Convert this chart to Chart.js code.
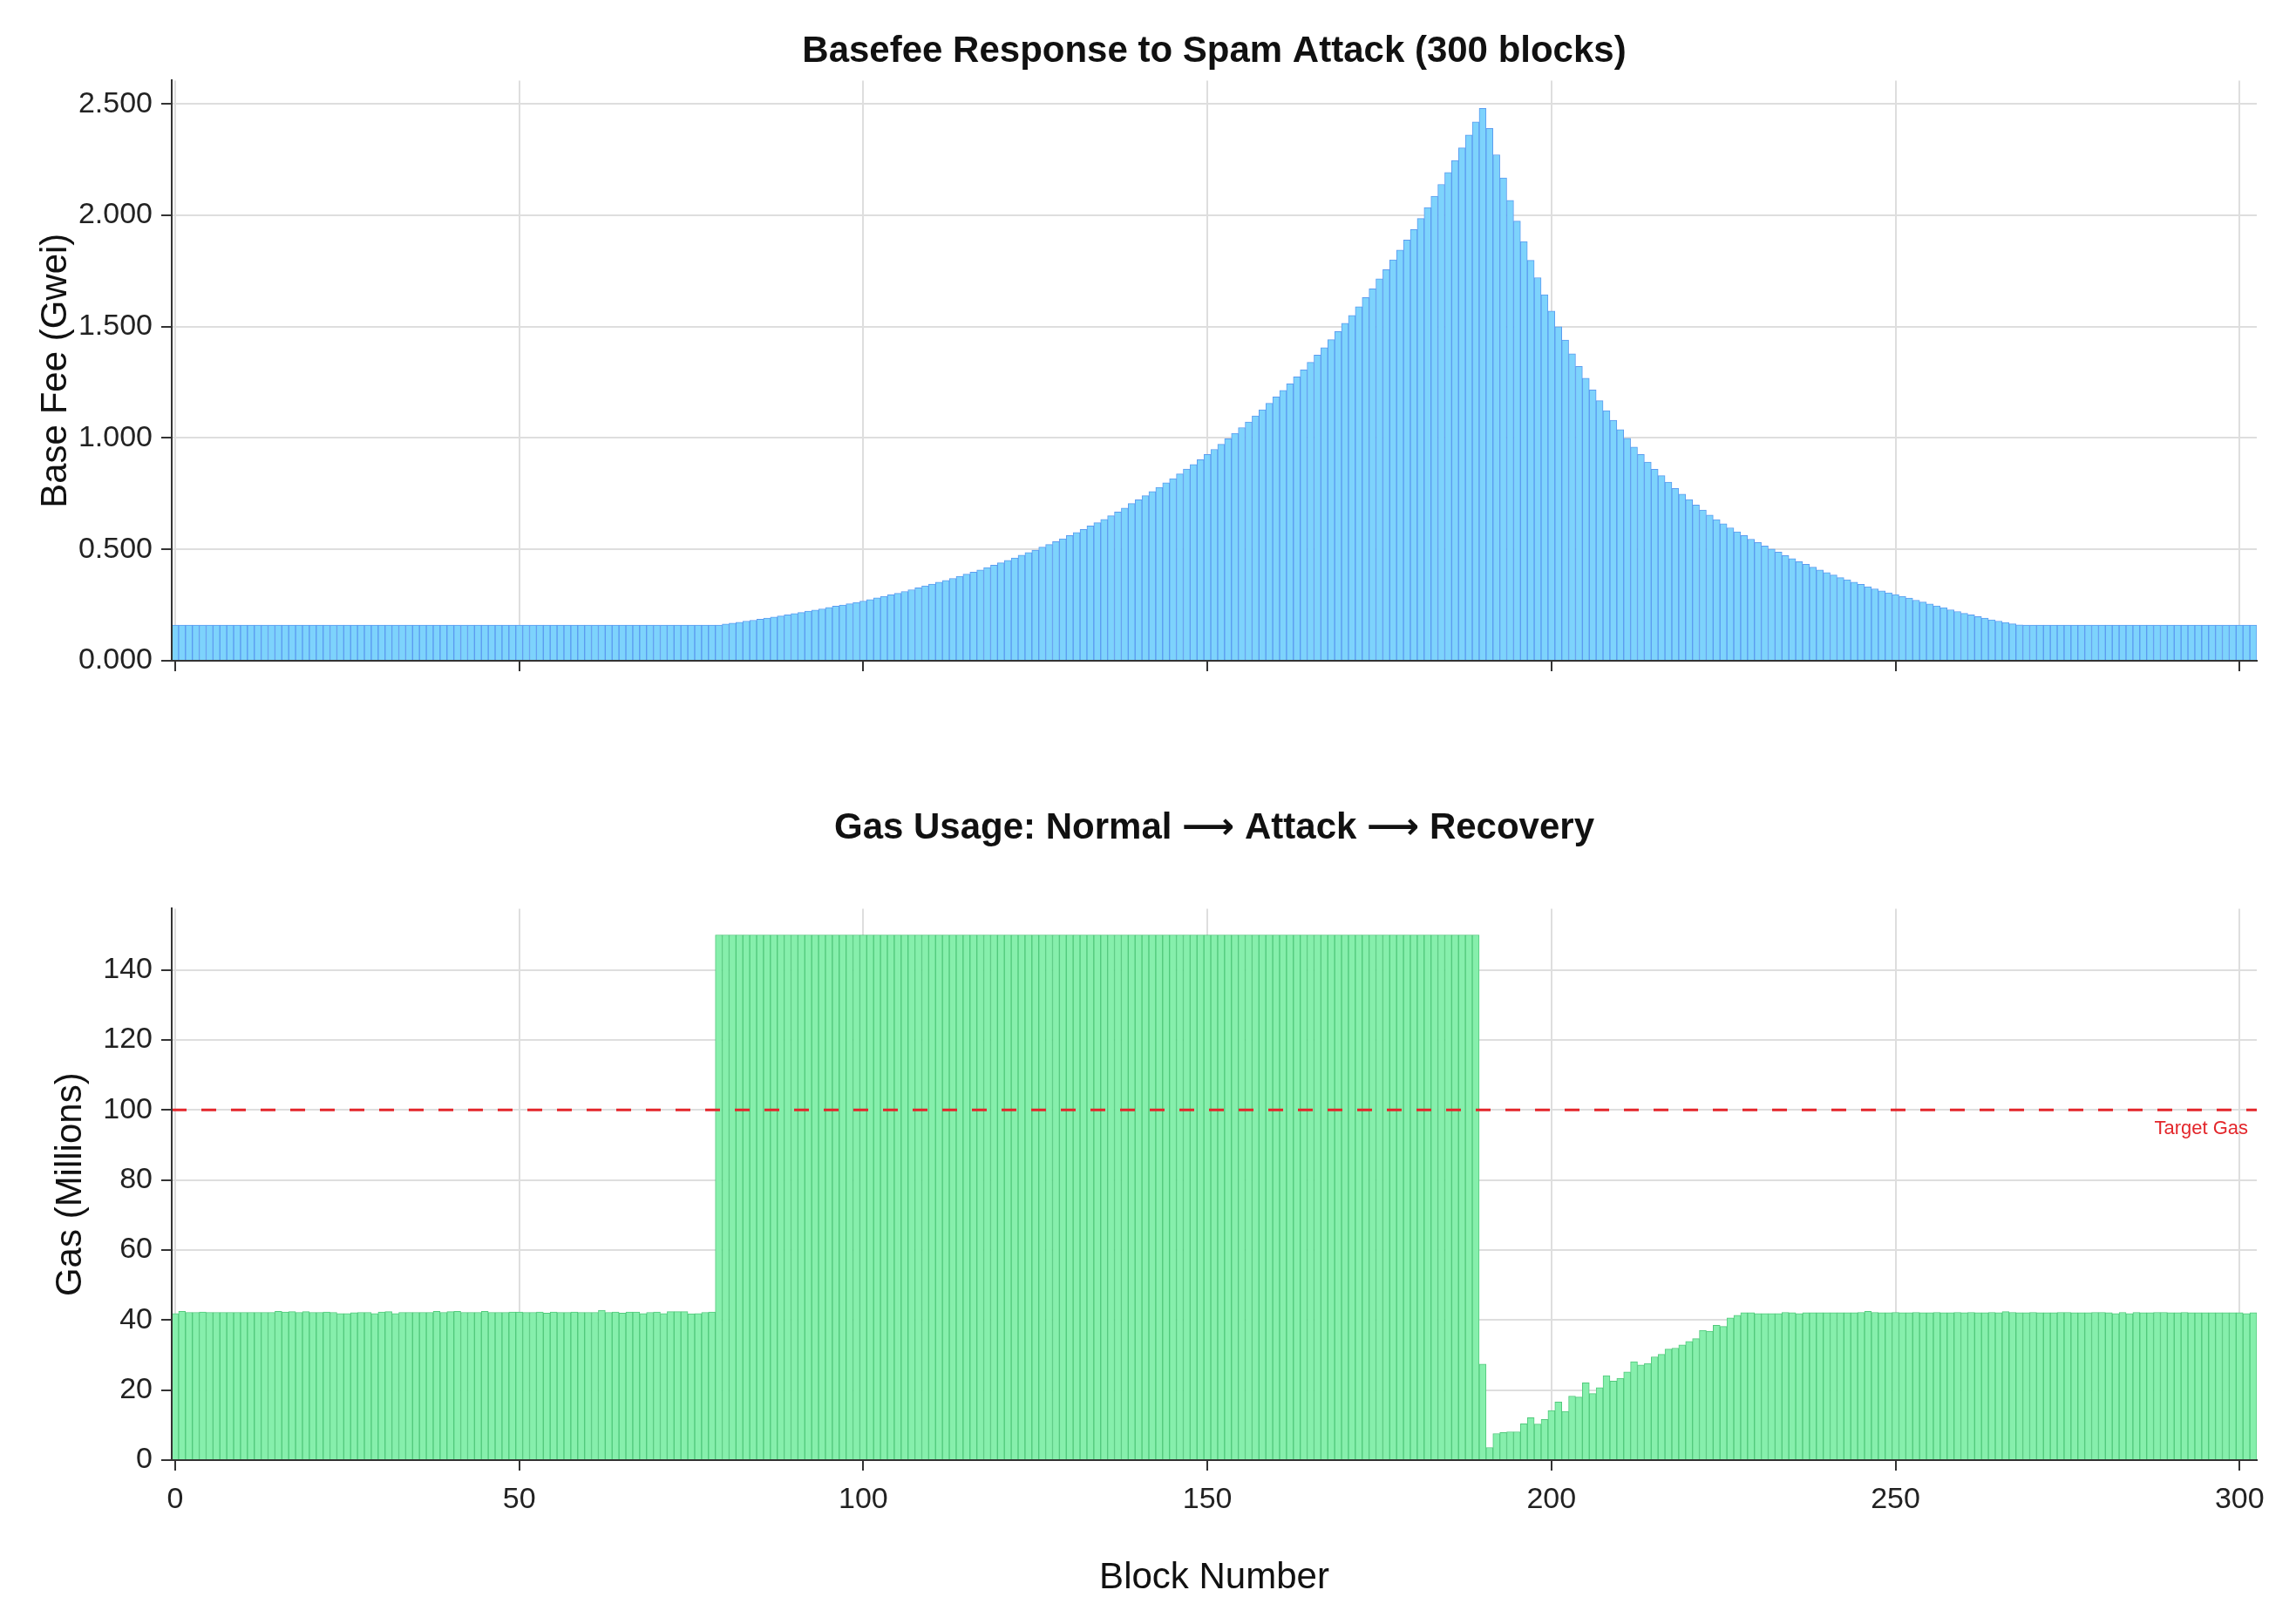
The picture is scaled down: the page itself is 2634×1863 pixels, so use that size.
<!DOCTYPE html>
<html>
<head>
<meta charset="utf-8">
<title>Basefee Response to Spam Attack</title>
<script src="https://cdn.jsdelivr.net/npm/chart.js@4.4.1/dist/chart.umd.min.js"></script>
<style>
  html, body { margin: 0; padding: 0; background: #fff; }
  #wrap { position: relative; width: 2634px; height: 1863px; }
  canvas { position: absolute; left: 0; }
  #feeChart { top: 0; }
  #gasChart { top: 880px; }
</style>
</head>
<body>
<div id="wrap">
  <canvas id="feeChart" width="2634" height="880"></canvas>
  <canvas id="gasChart" width="2634" height="983"></canvas>
</div>
<script>
// block numbers 0..302 (x categories)
const blocks = Array.from({ length: 303 }, (_, i) => i);

// base fee per block (Gwei)
const baseFee = [
  0.16, 0.16, 0.16, 0.16, 0.16, 0.16, 0.16, 0.16, 0.16, 0.16,
  0.16, 0.16, 0.16, 0.16, 0.16, 0.16, 0.16, 0.16, 0.16, 0.16,
  0.16, 0.16, 0.16, 0.16, 0.16, 0.16, 0.16, 0.16, 0.16, 0.16,
  0.16, 0.16, 0.16, 0.16, 0.16, 0.16, 0.16, 0.16, 0.16, 0.16,
  0.16, 0.16, 0.16, 0.16, 0.16, 0.16, 0.16, 0.16, 0.16, 0.16,
  0.16, 0.16, 0.16, 0.16, 0.16, 0.16, 0.16, 0.16, 0.16, 0.16,
  0.16, 0.16, 0.16, 0.16, 0.16, 0.16, 0.16, 0.16, 0.16, 0.16,
  0.16, 0.16, 0.16, 0.16, 0.16, 0.16, 0.16, 0.16, 0.16, 0.16,
  0.165, 0.169, 0.173, 0.178, 0.182, 0.187, 0.191, 0.196, 0.201, 0.206,
  0.212, 0.217, 0.223, 0.228, 0.233, 0.239, 0.245, 0.250, 0.256, 0.262,
  0.268, 0.275, 0.282, 0.289, 0.296, 0.303, 0.311, 0.319, 0.327, 0.336,
  0.344, 0.353, 0.361, 0.370, 0.379, 0.389, 0.398, 0.408, 0.418, 0.429,
  0.440, 0.451, 0.462, 0.474, 0.486, 0.497, 0.510, 0.522, 0.535, 0.548,
  0.562, 0.576, 0.590, 0.605, 0.620, 0.635, 0.651, 0.668, 0.686, 0.706,
  0.723, 0.741, 0.760, 0.779, 0.799, 0.818, 0.839, 0.861, 0.881, 0.903,
  0.926, 0.949, 0.972, 0.997, 1.021, 1.047, 1.072, 1.099, 1.127, 1.156,
  1.185, 1.214, 1.243, 1.275, 1.306, 1.340, 1.372, 1.406, 1.442, 1.478,
  1.515, 1.551, 1.590, 1.631, 1.670, 1.715, 1.756, 1.800, 1.844, 1.889,
  1.936, 1.986, 2.035, 2.086, 2.139, 2.192, 2.246, 2.303, 2.361, 2.419,
  2.480, 2.390, 2.272, 2.168, 2.067, 1.974, 1.882, 1.798, 1.720, 1.643,
  1.570, 1.500, 1.440, 1.378, 1.322, 1.269, 1.216, 1.168, 1.123, 1.080,
  1.038, 0.999, 0.960, 0.926, 0.892, 0.860, 0.831, 0.802, 0.774, 0.748,
  0.724, 0.699, 0.677, 0.654, 0.634, 0.615, 0.597, 0.579, 0.562, 0.546,
  0.531, 0.515, 0.502, 0.488, 0.472, 0.459, 0.445, 0.433, 0.420, 0.408,
  0.396, 0.385, 0.373, 0.364, 0.353, 0.343, 0.332, 0.323, 0.314, 0.305,
  0.297, 0.289, 0.281, 0.272, 0.264, 0.255, 0.246, 0.238, 0.229, 0.221,
  0.213, 0.206, 0.198, 0.191, 0.184, 0.178, 0.172, 0.166, 0.161, 0.16,
  0.16, 0.16, 0.16, 0.16, 0.16, 0.16, 0.16, 0.16, 0.16, 0.16,
  0.16, 0.16, 0.16, 0.16, 0.16, 0.16, 0.16, 0.16, 0.16, 0.16,
  0.16, 0.16, 0.16, 0.16, 0.16, 0.16, 0.16, 0.16, 0.16, 0.16,
  0.16, 0.16, 0.16
];

// gas used per block (millions)
const gasUsed = [
  41.9, 42.5, 42.2, 42.2, 42.3, 42.2, 42.2, 42.2, 42.2, 42.2,
  42.2, 42.2, 42.2, 42.2, 42.2, 42.5, 42.3, 42.4, 42.2, 42.4,
  42.2, 42.2, 42.3, 42.2, 41.9, 41.9, 42.1, 42.2, 42.2, 41.9,
  42.3, 42.4, 41.9, 42.2, 42.2, 42.2, 42.2, 42.2, 42.5, 42.2,
  42.4, 42.5, 42.2, 42.2, 42.2, 42.5, 42.2, 42.2, 42.2, 42.3,
  42.3, 42.2, 42.2, 42.3, 42.0, 42.3, 42.2, 42.2, 42.3, 42.2,
  42.2, 42.2, 42.8, 42.2, 42.3, 42.0, 42.3, 42.3, 41.9, 42.2,
  42.3, 41.9, 42.4, 42.4, 42.4, 41.8, 41.9, 42.2, 42.3,
  // attack: blocks 79..189
  150, 150, 150, 150, 150, 150, 150, 150, 150, 150,
  150, 150, 150, 150, 150, 150, 150, 150, 150, 150,
  150, 150, 150, 150, 150, 150, 150, 150, 150, 150,
  150, 150, 150, 150, 150, 150, 150, 150, 150, 150,
  150, 150, 150, 150, 150, 150, 150, 150, 150, 150,
  150, 150, 150, 150, 150, 150, 150, 150, 150, 150,
  150, 150, 150, 150, 150, 150, 150, 150, 150, 150,
  150, 150, 150, 150, 150, 150, 150, 150, 150, 150,
  150, 150, 150, 150, 150, 150, 150, 150, 150, 150,
  150, 150, 150, 150, 150, 150, 150, 150, 150, 150,
  150, 150, 150, 150, 150, 150, 150, 150, 150, 150,
  150,
  // recovery: blocks 190..302
  27.4, 3.6, 7.6, 7.9, 8.1, 8.1, 10.4, 12.1, 10.3, 11.6,
  14.2, 16.6, 13.9, 18.3, 18.0, 22.1, 19.0, 20.7, 24.1, 22.6,
  23.4, 25.2, 28.1, 27.2, 27.6, 29.5, 30.2, 31.7, 32.0, 32.9,
  33.9, 34.7, 37.1, 36.8, 38.5, 38.2, 40.6, 41.4, 42.1, 42.1,
  41.9, 41.9, 41.9, 41.9, 42.2, 42.1, 41.9, 42.1, 42.1, 42.1,
  42.1, 42.1, 42.1, 42.1, 42.1, 42.2, 42.5, 42.2, 42.1, 42.1,
  42.2, 42.1, 42.1, 42.2, 42.1, 42.1, 42.2, 42.1, 42.1, 42.2,
  42.1, 42.2, 42.1, 42.1, 42.2, 42.1, 42.4, 42.2, 42.1, 42.1,
  42.2, 42.1, 42.1, 42.1, 42.2, 42.2, 42.1, 42.1, 42.1, 42.2,
  42.2, 42.1, 41.9, 42.2, 41.9, 42.2, 42.1, 42.1, 42.2, 42.2,
  42.1, 42.1, 42.2, 42.1, 42.1, 42.1, 42.1, 42.1, 42.1, 42.1,
  42.1, 41.9, 42.1
];

const targetGas = 100;

const FONT = "'Liberation Sans', Arial, Helvetica, 'DejaVu Sans', sans-serif";
const GRID = '#dedede';
const AXIS = '#333';

Chart.defaults.font.family = FONT;
Chart.defaults.color = '#222';

// shared x axis (block number), bars centred on integers
function blockAxis(showLabels, height) {
  return {
    type: 'linear',
    min: -0.5,
    max: 302.5,
    offset: false,
    ticks: { display: showLabels, stepSize: 50, includeBounds: false, padding: 13, font: { size: 34 }, color: '#222' },
    grid: { color: GRID, lineWidth: 2, offset: false, tickColor: AXIS, tickWidth: 2, tickLength: 12 },
    border: { color: AXIS, width: 2, z: 1 },
    title: showLabels
      ? { display: true, text: 'Block Number', color: '#111', font: { size: 42, lineHeight: 1.2 }, padding: { top: 0, bottom: 27 } }
      : { display: false },
    afterFit: s => { s.height = height; }
  };
}

function valueAxis(max, step, fmt, titleText, titlePad) {
  return {
    min: 0,
    max: max,
    ticks: { stepSize: step, includeBounds: false, padding: 10, font: { size: 34 }, color: '#222', callback: fmt },
    grid: { color: GRID, lineWidth: 2, tickColor: AXIS, tickWidth: 2, tickLength: 12 },
    border: { color: AXIS, width: 2, z: 1 },
    title: { display: true, text: titleText, color: '#111', font: { size: 42, lineHeight: 1.2 }, padding: { top: titlePad, bottom: 0 } },
    afterFit: s => { s.width = 197; }
  };
}

function panelTitle(text, padTop, padBottom) {
  return {
    display: true,
    fullSize: false,
    text: text,
    color: '#111',
    font: { size: 42, weight: 'bold', lineHeight: 1.2 },
    padding: { top: padTop, bottom: padBottom }
  };
}

// dashed target line + label
const targetLine = {
  id: 'targetLine',
  afterDatasetsDraw(chart) {
    const { ctx, chartArea, scales } = chart;
    const y = scales.y.getPixelForValue(targetGas);
    ctx.save();
    ctx.strokeStyle = '#e3262b';
    ctx.lineWidth = 3;
    ctx.setLineDash([17, 17]);
    ctx.beginPath();
    ctx.moveTo(chartArea.left, y);
    ctx.lineTo(chartArea.right, y);
    ctx.stroke();
    ctx.setLineDash([]);
    ctx.fillStyle = '#e3262b';
    ctx.font = '22px ' + FONT;
    ctx.textAlign = 'right';
    ctx.textBaseline = 'top';
    ctx.fillText('Target Gas', chartArea.right - 10, y + 11);
    ctx.restore();
  }
};

new Chart(document.getElementById('feeChart'), {
  type: 'bar',
  data: {
    labels: blocks,
    datasets: [{
      data: baseFee,
      backgroundColor: '#7dd3fc',
      borderColor: '#5b9bf0',
      borderWidth: 1,
      categoryPercentage: 1,
      barPercentage: 1
    }]
  },
  options: {
    responsive: false,
    animation: false,
    devicePixelRatio: 1,
    layout: { padding: { left: 0, right: 45, top: 0, bottom: 0 } },
    plugins: {
      legend: { display: false },
      tooltip: { enabled: false },
      title: panelTitle('Basefee Response to Spam Attack (300 blocks)', 34, 8)
    },
    scales: {
      x: blockAxis(false, 122),
      y: valueAxis(2.605, 0.5, v => v.toFixed(3), 'Base Fee (Gwei)', 39)
    }
  }
});

new Chart(document.getElementById('gasChart'), {
  type: 'bar',
  data: {
    labels: blocks,
    datasets: [{
      data: gasUsed,
      backgroundColor: '#86efac',
      borderColor: '#52c97c',
      borderWidth: 1,
      categoryPercentage: 1,
      barPercentage: 1
    }]
  },
  options: {
    responsive: false,
    animation: false,
    devicePixelRatio: 1,
    layout: { padding: { left: 0, right: 45, top: 0, bottom: 0 } },
    plugins: {
      legend: { display: false },
      tooltip: { enabled: false },
      title: panelTitle('Gas Usage: Normal \u27F6 Attack \u27F6 Recovery', 45, 67)
    },
    scales: {
      x: blockAxis(true, 188),
      y: valueAxis(157.5, 20, v => v, 'Gas (Millions)', 56)
    }
  },
  plugins: [targetLine]
});
</script>
</body>
</html>
